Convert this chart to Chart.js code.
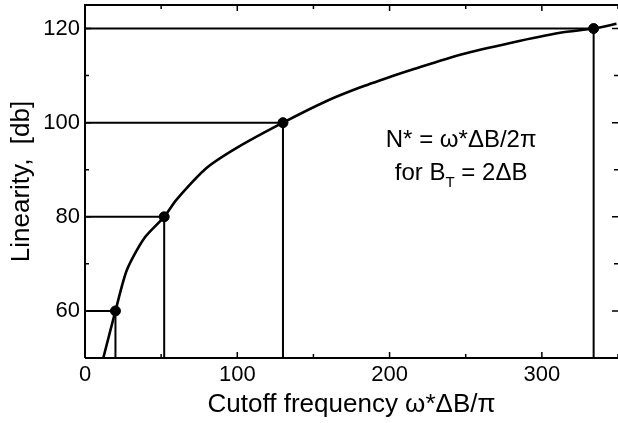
<!DOCTYPE html>
<html>
<head>
<meta charset="utf-8">
<script src="https://cdn.jsdelivr.net/npm/chart.js@4.4.1/dist/chart.umd.min.js"></script>
<style>
  html, body { margin: 0; padding: 0; background: #fff; }
  #wrap { width: 618px; height: 423px; }
</style>
</head>
<body>
<div id="wrap"><canvas id="chartLinearity"></canvas></div>
<script>
// Curva de linearidade
const curveX = [12, 20, 27.5, 39, 52, 60, 80, 101, 130, 158, 180, 201, 215, 247, 280, 312, 334, 349];
const curveY = [50, 60, 68.7, 75.5, 80, 83.6, 90.4, 94.9, 100, 104.5, 107.4, 109.8, 111.3, 114.5, 117, 119.1, 120, 121];

// Pontos marcados
const markX = [20, 52, 130, 334];
const markY = [60, 80, 100, 120];

// Ticks
const xTicks = [0, 100, 200, 300];
const xMinor = [50, 150, 250, 350];
const yTicks = [60, 80, 100, 120];
const yMinor = [70, 90, 110];

// Texto da anotação
const noteX = 247;
const noteY = [94.9, 87.9];
const noteLine1 = "N* = ω*ΔB/2π";

const FONT = "'Liberation Sans', Arial, sans-serif";
const yMin = 50;

const guideSets = markX.map((mx, i) => ({
  type: "line",
  data: [
    { x: 0, y: markY[i] },
    { x: mx, y: markY[i] },
    { x: mx, y: yMin },
  ],
  borderColor: "#000",
  borderWidth: 2,
  pointRadius: 0,
  tension: 0,
}));

// zera o padding extra que o Chart.js reserva para os rótulos
function noPad(scale) {
  scale.paddingLeft = 0;
  scale.paddingRight = 0;
  scale.paddingTop = 0;
  scale.paddingBottom = 0;
}

const frameTicks = {
  id: "frameTicks",
  afterDraw(chart) {
    const { ctx, chartArea: a, scales: { x, y } } = chart;
    ctx.save();
    ctx.strokeStyle = "#000";
    ctx.lineWidth = 2;
    ctx.beginPath();
    ctx.moveTo(a.left, a.bottom);
    ctx.lineTo(a.left, a.top);
    ctx.lineTo(a.right, a.top);
    ctx.moveTo(a.left, a.bottom);
    ctx.lineTo(a.right, a.bottom);
    ctx.stroke();
    ctx.lineWidth = 1.5;
    ctx.beginPath();
    const tx = (v, len) => {
      const px = x.getPixelForValue(v);
      ctx.moveTo(px, a.bottom); ctx.lineTo(px, a.bottom - len);
      ctx.moveTo(px, a.top); ctx.lineTo(px, a.top + len);
    };
    const ty = (v, len) => {
      const py = y.getPixelForValue(v);
      ctx.moveTo(a.left, py); ctx.lineTo(a.left + len, py);
      ctx.moveTo(a.right, py); ctx.lineTo(a.right - len, py);
    };
    xTicks.forEach((v) => tx(v, 6));
    xMinor.forEach((v) => tx(v, 4));
    yTicks.forEach((v) => ty(v, 6));
    yMinor.forEach((v) => ty(v, 4));
    ctx.stroke();
    ctx.restore();
  },
};

const notePlugin = {
  id: "notePlugin",
  afterDatasetsDraw(chart) {
    const { ctx, scales: { x, y } } = chart;
    const cx = x.getPixelForValue(noteX);
    ctx.save();
    ctx.fillStyle = "#000";
    ctx.textBaseline = "alphabetic";
    ctx.font = "24px " + FONT;
    ctx.textAlign = "center";
    ctx.fillText(noteLine1, cx, y.getPixelForValue(noteY[0]));
    // segunda linha com subscrito
    const partA = "for B", sub = "T", partB = " = 2ΔB";
    const bigFont = "24px " + FONT, subFont = "15px " + FONT;
    ctx.font = bigFont;
    const wA = ctx.measureText(partA).width;
    const wB = ctx.measureText(partB).width;
    ctx.font = subFont;
    const wS = ctx.measureText(sub).width;
    let sx = cx - (wA + wS + wB) / 2;
    const by = y.getPixelForValue(noteY[1]);
    ctx.textAlign = "left";
    ctx.font = bigFont;
    ctx.fillText(partA, sx, by);
    sx += wA;
    ctx.font = subFont;
    ctx.fillText(sub, sx, by + 7);
    sx += wS;
    ctx.font = bigFont;
    ctx.fillText(partB, sx, by);
    ctx.restore();
  },
};

const canvas = document.getElementById("chartLinearity");

new Chart(canvas, {
  type: "line",
  data: {
    datasets: [
      ...guideSets,
      {
        type: "line",
        label: "Linearity",
        data: curveX.map((v, i) => ({ x: v, y: curveY[i] })),
        borderColor: "#000",
        borderWidth: 2.6,
        pointRadius: 0,
        tension: 0.25,
      },
      {
        type: "scatter",
        label: "Marks",
        data: markX.map((v, i) => ({ x: v, y: markY[i] })),
        pointRadius: 5,
        pointBackgroundColor: "#000",
        pointBorderColor: "#000",
        showLine: false,
      },
    ],
  },
  options: {
    responsive: true,
    maintainAspectRatio: false,
    animation: false,
    layout: { autoPadding: false, padding: { top: 5, right: 0, left: 0, bottom: 0 } },
    plugins: {
      legend: { display: false },
      tooltip: { enabled: false },
    },
    scales: {
      x: {
        type: "linear",
        min: 0,
        max: 350,
        afterFit(scale) { scale.height = 65; noPad(scale); },
        afterBuildTicks(scale) { scale.ticks = xTicks.map((v) => ({ value: v })); },
        grid: { display: false, drawTicks: false },
        border: { display: false },
        ticks: {
          color: "#000",
          padding: 4,
          font: { family: FONT, size: 22 },
        },
        title: {
          display: true,
          text: "Cutoff frequency ω*ΔB/π",
          color: "#000",
          font: { family: FONT, size: 26, lineHeight: 1 },
          padding: { top: 0, bottom: 5 },
        },
      },
      y: {
        type: "linear",
        min: 50,
        max: 125,
        afterFit(scale) { scale.width = 85; noPad(scale); },
        afterBuildTicks(scale) { scale.ticks = yTicks.map((v) => ({ value: v })); },
        grid: { display: false, drawTicks: false },
        border: { display: false },
        ticks: {
          color: "#000",
          padding: 5,
          font: { family: FONT, size: 22 },
        },
        title: {
          display: true,
          text: "Linearity,  [db]",
          color: "#000",
          font: { family: FONT, size: 26, lineHeight: 1 },
          padding: { top: 9, bottom: 0 },
        },
      },
    },
  },
  plugins: [frameTicks, notePlugin],
});
</script>
</body>
</html>
